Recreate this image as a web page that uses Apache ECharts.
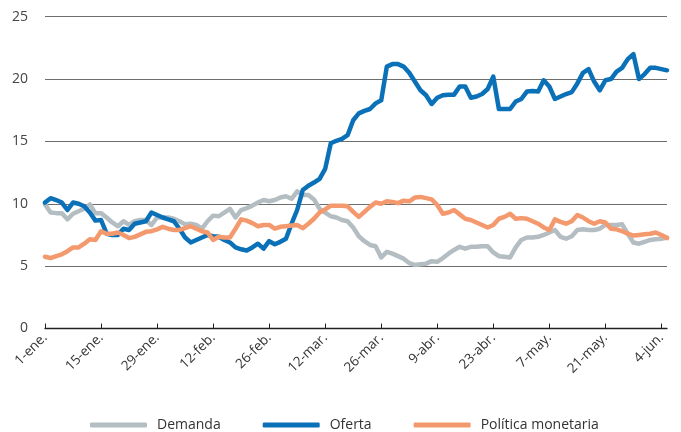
<!DOCTYPE html>
<html lang="es" style="height: 100%">
<head>
    <meta charset="utf-8">
</head>
<body style="height: 100%; margin: 0">
<div id="container" style="width: 681px; height: 432px"></div>

<script type="text/javascript" src="https://cdn.jsdelivr.net/npm/echarts@6/dist/echarts.min.js"></script>

<script type="text/javascript">
    // etiquetas del eje x (una cada 10 observaciones)
    const xTicks = ['1-ene.', '15-ene.', '29-ene.', '12-feb.', '26-feb.', '12-mar.',
        '26-mar.', '9-abr.', '23-abr.', '7-may.', '21-may.', '4-jun.'];

    const demanda = [
        9.95, 9.3, 9.25, 9.25, 8.75, 9.2, 9.4, 9.6, 9.95, 9.25,
        9.25, 8.9, 8.5, 8.2, 8.6, 8.3, 8.6, 8.7, 8.7, 8.3,
        8.9, 8.9, 8.9, 8.8, 8.6, 8.35, 8.4, 8.3, 8.0, 8.6,
        9.05, 9.0, 9.3, 9.6, 8.9, 9.5, 9.65, 9.85, 10.1, 10.3,
        10.2, 10.3, 10.5, 10.6, 10.4, 11.0, 10.7, 10.7, 10.35, 9.6,
        9.3, 9.0, 8.9, 8.7, 8.6, 8.1, 7.4, 7.0, 6.7, 6.6,
        5.7, 6.15, 6.0, 5.8, 5.6, 5.25, 5.1, 5.15, 5.2, 5.4,
        5.35, 5.65, 6.0, 6.3, 6.55, 6.4, 6.55, 6.55, 6.6, 6.6,
        6.1, 5.8, 5.75, 5.7, 6.5, 7.1, 7.3, 7.3, 7.35, 7.5,
        7.7, 7.9, 7.35, 7.2, 7.4, 7.9, 7.95, 7.9, 7.9, 8.0,
        8.3, 8.3, 8.3, 8.35, 7.6, 6.9, 6.8, 6.95, 7.1, 7.15,
        7.2, 7.3
    ];

    const oferta = [
        10.1, 10.45, 10.3, 10.1, 9.5, 10.1, 10.0, 9.8, 9.3, 8.65,
        8.7, 7.6, 7.5, 7.5, 8.0, 7.9, 8.4, 8.5, 8.6, 9.3,
        9.1, 8.9, 8.75, 8.6, 8.0, 7.3, 6.9, 7.1, 7.3, 7.5,
        7.4, 7.35, 7.1, 6.9, 6.5, 6.35, 6.25, 6.5, 6.8, 6.4,
        7.0, 6.75, 6.95, 7.2, 8.4, 9.5, 11.1, 11.45, 11.7, 12.0,
        12.8, 14.85, 15.05, 15.2, 15.5, 16.7, 17.25, 17.45, 17.6, 18.05,
        18.3, 21.0, 21.2, 21.2, 21.0, 20.5, 19.8, 19.1, 18.7, 18.0,
        18.5, 18.7, 18.75, 18.75, 19.4, 19.4, 18.5, 18.6, 18.8, 19.2,
        20.2, 17.6, 17.6, 17.6, 18.2, 18.4, 19.0, 19.05, 19.0, 19.9,
        19.4, 18.4, 18.6, 18.8, 18.95, 19.65, 20.5, 20.8, 19.8, 19.1,
        19.9, 20.0, 20.6, 20.9, 21.6, 22.0, 20.0, 20.4, 20.9, 20.9,
        20.8, 20.7
    ];

    const politica = [
        5.75, 5.65, 5.8, 5.95, 6.2, 6.5, 6.5, 6.8, 7.15, 7.1,
        7.8, 7.6, 7.6, 7.7, 7.5, 7.25, 7.35, 7.55, 7.75, 7.8,
        7.95, 8.15, 8.0, 7.9, 7.9, 8.05, 8.2, 8.0, 7.8, 7.7,
        7.1, 7.35, 7.3, 7.3, 8.0, 8.75, 8.65, 8.45, 8.2, 8.3,
        8.3, 8.0, 8.15, 8.2, 8.25, 8.3, 8.05, 8.4, 8.8, 9.3,
        9.55, 9.85, 9.85, 9.85, 9.8, 9.35, 8.95, 9.35, 9.75, 10.1,
        10.0, 10.2, 10.15, 10.05, 10.25, 10.2, 10.5, 10.55, 10.45, 10.35,
        9.9, 9.2, 9.3, 9.5, 9.15, 8.8, 8.7, 8.5, 8.3, 8.1,
        8.3, 8.8, 8.95, 9.2, 8.8, 8.85, 8.8, 8.6, 8.4, 8.1,
        7.9, 8.75, 8.55, 8.4, 8.6, 9.1, 8.9, 8.6, 8.4, 8.6,
        8.5, 8.0, 7.95, 7.8, 7.6, 7.45, 7.5, 7.55, 7.6, 7.7,
        7.5, 7.25
    ];

    const categories = demanda.map(function (v, i) { return String(i); });

    var dom = document.getElementById('container');
    var myChart = echarts.init(dom, null, { renderer: 'canvas' });

    var fontFamily = '"Open Sans", "Noto Sans", sans-serif';

    function lineSeries(name, data, color) {
        return {
            type: 'line',
            name: name,
            data: data,
            showSymbol: false,
            symbol: 'none',
            animation: false,
            lineStyle: { color: color, width: 4.5, join: 'round', cap: 'round' },
            itemStyle: { color: color }
        };
    }

    var option = {
        backgroundColor: '#ffffff',
        grid: { left: 45, right: 14, top: 16.7, bottom: 103.5 },
        legend: {
            left: 85,
            top: 413,
            itemWidth: 57,
            itemHeight: 5,
            itemGap: 42,
            icon: 'roundRect',
            textStyle: { fontFamily: fontFamily, fontSize: 14, color: '#333', padding: [0, 0, 0, 5] },
            data: ['Demanda', 'Oferta', 'Política monetaria']
        },
        xAxis: {
            type: 'category',
            data: categories,
            boundaryGap: false,
            axisLine: { lineStyle: { color: '#222', width: 1.3 } },
            axisTick: { inside: true, length: 5, interval: 9, lineStyle: { color: '#222' } },
            axisLabel: {
                interval: 9,
                rotate: 45,
                margin: 7,
                fontFamily: fontFamily,
                fontSize: 13.5,
                color: '#333',
                formatter: function (name, idx) {
                    return xTicks[idx / 10] || '';
                }
            },
            splitLine: { show: false }
        },
        yAxis: {
            type: 'value',
            min: 0,
            max: 25,
            interval: 5,
            axisLine: { show: false },
            axisTick: { show: false },
            axisLabel: { margin: 17, fontFamily: fontFamily, fontSize: 14, color: '#444' },
            splitLine: { lineStyle: { color: '#6e6e6e', width: 1.2 } }
        },
        series: [
            lineSeries('Demanda', demanda, '#b4bec2'),
            lineSeries('Oferta', oferta, '#0a71b9'),
            lineSeries('Política monetaria', politica, '#f4996d')
        ]
    };

    myChart.setOption(option);
    window.addEventListener('resize', myChart.resize);
</script>
</body>
</html>
